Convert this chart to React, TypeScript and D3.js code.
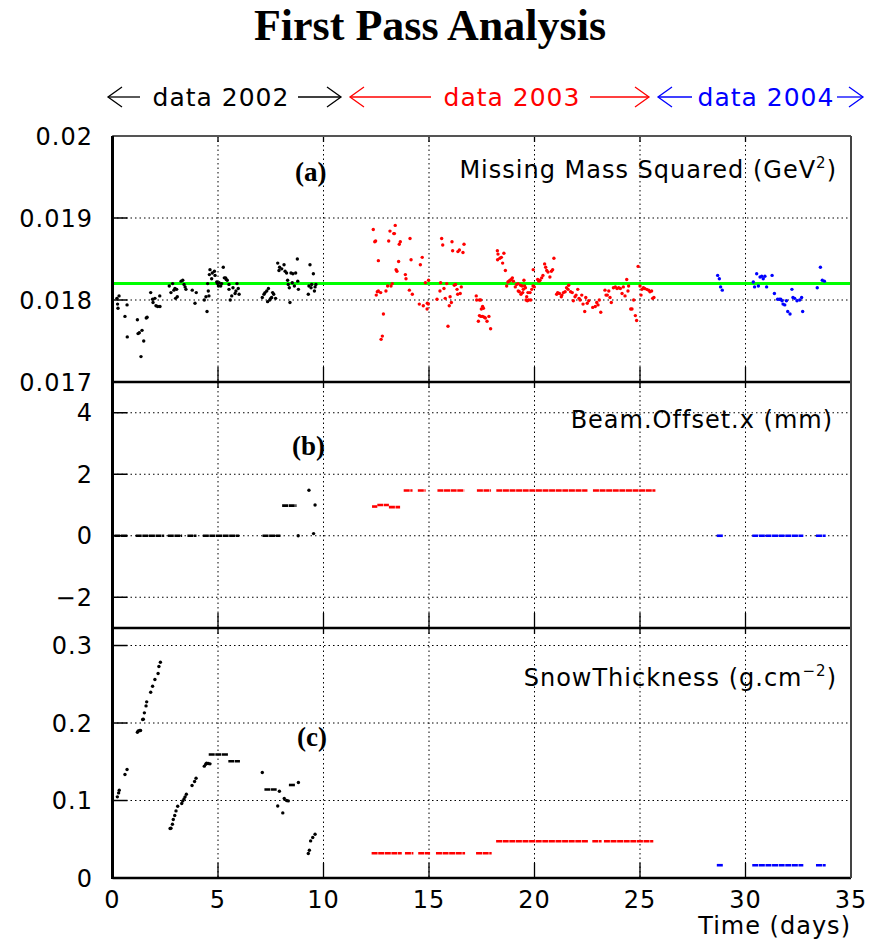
import React from 'react';
import * as d3 from 'd3';

// ---------- DATA ----------
const xTicks = [0, 5, 10, 15, 20, 25, 30, 35];
const xTickLabels = ['0', '5', '10', '15', '20', '25', '30', '35'];

const aTicks = [0.017, 0.018, 0.019, 0.02];
const aTickLabels = ['0.017', '0.018', '0.019', '0.02'];
const bTicks = [-2, 0, 2, 4];
const bTickLabels = ['\u22122', '0', '2', '4'];
const cTicks = [0, 0.1, 0.2, 0.3];
const cTickLabels = ['0', '0.1', '0.2', '0.3'];

const mm2Reference = 0.0182;

// Panel (a): missing mass squared [time, value]
const mm2002: [number, number][] = [
  [0.21,0.01802],[0.31,0.01805],[0.24,0.01795],[0.26,0.01790],[0.59,0.01780],[0.69,0.01794],[0.70,0.01755],[1.18,0.01776],[1.21,0.01759],[1.27,0.01760],[1.40,0.01763],[1.48,0.01750],[1.35,0.01731],[1.60,0.01778],[1.64,0.01779],[1.81,0.01809],[1.90,0.01801],[1.92,0.01797],[2.01,0.01802],[2.06,0.01793],[2.14,0.01792],[2.25,0.01792],[2.24,0.01805],[2.69,0.01817],[2.77,0.01809],[2.85,0.01820],[2.91,0.01812],[2.96,0.01814],[3.04,0.01813],[3.07,0.01804],[2.99,0.01802],[3.25,0.01823],[3.33,0.01824],[3.39,0.01819],[3.44,0.01816],[3.48,0.01813],[3.78,0.01812],[3.91,0.01796],[3.97,0.01809],[4.35,0.01800],[4.43,0.01804],[4.48,0.01786],[4.54,0.01811],[4.57,0.01805],[4.51,0.01820],[4.59,0.01831],[4.62,0.01837],[4.70,0.01826],[4.73,0.01833],[4.83,0.01835],[4.86,0.01830],[4.94,0.01822],[4.98,0.01820],[5.02,0.01817],[5.05,0.01821],[5.13,0.01817],[5.17,0.01820],[5.25,0.01840],[5.30,0.01827],[5.36,0.01827],[5.39,0.01825],[5.44,0.01824],[5.52,0.01819],[5.52,0.01813],[5.58,0.01800],[5.65,0.01805],[5.71,0.01815],[5.81,0.01808],[5.85,0.01811],[5.90,0.01820],[5.96,0.01814],[6.00,0.01807],[7.10,0.01803],[7.18,0.01807],[7.23,0.01809],[7.31,0.01811],[7.39,0.01814],[7.35,0.01798],[7.45,0.01800],[7.50,0.01802],[7.54,0.01803],[7.59,0.01809],[7.64,0.01807],[7.73,0.01802],[7.83,0.01845],[7.92,0.01840],[7.89,0.01836],[8.02,0.01838],[8.13,0.01843],[8.18,0.01835],[8.25,0.01833],[8.30,0.01824],[8.33,0.01819],[8.38,0.01815],[8.41,0.01797],[8.46,0.01833],[8.52,0.01821],[8.55,0.01832],[8.62,0.01817],[8.68,0.01833],[8.76,0.01850],[8.78,0.01823],[8.81,0.01813],[9.28,0.01807],[9.31,0.01817],[9.36,0.01843],[9.41,0.01815],[9.44,0.01819],[9.52,0.01832],[9.57,0.01811],[9.60,0.01816],[9.64,0.01819]
];
const mm2003: [number, number][] = [
  [12.36,0.01886],[12.43,0.01871],[12.47,0.01872],[12.60,0.01848],[12.50,0.01806],[12.55,0.01810],[12.60,0.01811],[12.71,0.01809],[12.84,0.01783],[12.73,0.01752],[12.79,0.01756],[12.96,0.01811],[13.04,0.01817],[13.09,0.01872],[13.15,0.01884],[13.20,0.01817],[13.26,0.01820],[13.33,0.01881],[13.36,0.01881],[13.40,0.01891],[13.44,0.01837],[13.48,0.01835],[13.56,0.01847],[13.59,0.01868],[13.64,0.01871],[13.88,0.01831],[13.91,0.01826],[14.07,0.01812],[14.10,0.01875],[14.15,0.01849],[14.21,0.01807],[14.54,0.01795],[14.59,0.01843],[14.68,0.01852],[14.73,0.01793],[14.83,0.01821],[14.91,0.01789],[14.92,0.01796],[14.97,0.01795],[14.98,0.01824],[15.38,0.01801],[15.52,0.01811],[15.55,0.01821],[15.60,0.01875],[15.65,0.01867],[15.71,0.01814],[15.77,0.01802],[15.84,0.01820],[15.90,0.01768],[15.96,0.01793],[16.00,0.01804],[16.06,0.01797],[16.09,0.01871],[16.12,0.01860],[16.20,0.01818],[16.26,0.01819],[16.33,0.01813],[16.37,0.01859],[16.44,0.01861],[16.36,0.01807],[16.53,0.01816],[16.61,0.01858],[16.66,0.01868],[16.48,0.01808],
  [17.24,0.01805],[17.26,0.01800],[17.39,0.01800],[17.45,0.01800],[17.54,0.01792],[17.58,0.01790],[17.48,0.01789],[17.39,0.01781],[17.46,0.01780],[17.54,0.01780],[17.62,0.01779],[17.67,0.01778],[17.75,0.01774],[17.84,0.01780],[17.34,0.01774],[17.92,0.01765],
  [18.24,0.01860],[18.27,0.01856],[18.25,0.01849],[18.36,0.01851],
  [18.43,0.01852],[18.49,0.01845],[18.55,0.01857],[18.62,0.01836],[18.68,0.01817],[18.74,0.01822],[18.79,0.01823],[18.84,0.01824],[18.90,0.01825],[18.95,0.01827],[19.00,0.01823],[19.09,0.01816],[19.15,0.01819],[19.22,0.01820],[19.23,0.01811],[19.28,0.01810],[19.34,0.01818],[19.36,0.01807],[19.41,0.01817],[19.44,0.01809],[19.47,0.01813],[19.50,0.01824],[19.53,0.01817],[19.57,0.01815],[19.60,0.01800],[19.63,0.01804],[19.66,0.01799],[19.69,0.01809],[19.72,0.01800],[19.79,0.01809],[19.82,0.01800],[19.87,0.01813],[19.93,0.01817],[19.94,0.01837],[19.99,0.01816],[20.15,0.01825],[20.21,0.01823],[20.26,0.01824],[20.34,0.01827],[20.40,0.01830],[20.48,0.01844],[20.53,0.01840],[20.58,0.01836],[20.64,0.01834],[20.73,0.01828],[20.80,0.01835],[20.86,0.01837],[20.92,0.01851],[21.05,0.01807],[21.10,0.01809],[21.18,0.01808],[21.27,0.01804],[21.30,0.01806],[21.37,0.01809],[21.45,0.01810],[21.52,0.01815],[21.59,0.01813],[21.62,0.01818],[21.71,0.01810],[21.79,0.01809],[21.84,0.01799],[21.92,0.01804],[21.97,0.01806],[22.05,0.01813],[22.11,0.01802],[22.16,0.01800],[22.24,0.01806],[22.30,0.01795],[22.38,0.01786],[22.43,0.01803],[22.50,0.01796],[22.57,0.01799],[22.76,0.01791],[22.88,0.01792],[22.95,0.01797],[23.01,0.01794],[23.07,0.01800],[23.14,0.01785],[23.34,0.01812],[23.39,0.01806],[23.45,0.01806],[23.52,0.01811],[23.58,0.01803],[23.64,0.01797],[23.74,0.01815],[23.83,0.01816],[23.91,0.01814],[23.99,0.01815],[24.07,0.01814],[24.15,0.01808],[24.21,0.01816],[24.29,0.01805],[24.37,0.01825],[24.43,0.01811],[24.46,0.01817],[24.56,0.01789],[24.62,0.01789],[24.70,0.01800],[24.78,0.01781],[24.84,0.01775],[24.91,0.01841],[25.00,0.01817],[25.05,0.01806],[25.09,0.01813],[25.16,0.01815],[25.22,0.01814],[25.32,0.01813],[25.41,0.01812],[25.47,0.01810],[25.55,0.01811],[25.60,0.01802],[25.66,0.01803]
];
const mm2004: [number, number][] = [
  [28.68,0.01830],[28.76,0.01826],[28.82,0.01816],[28.90,0.01812],[30.37,0.01822],[30.43,0.01816],[30.53,0.01832],[30.61,0.01817],[30.69,0.01828],[30.77,0.01829],[30.84,0.01826],[30.92,0.01829],[31.00,0.01816],[31.26,0.01830],[31.37,0.01808],[31.52,0.01801],[31.60,0.01801],[31.67,0.01801],[31.73,0.01799],[31.78,0.01795],[31.86,0.01794],[31.94,0.01799],[32.00,0.01786],[32.11,0.01783],[32.20,0.01813],[32.25,0.01803],[32.33,0.01802],[32.44,0.01799],[32.57,0.01800],[32.66,0.01803],[32.71,0.01786],[33.40,0.01815],[33.55,0.01840],[33.64,0.01824],[33.74,0.01823]
];

// Panel (b): beam offset x, runs [tStart, tEnd, value] and single points [t, value]
const beam2002Runs: [number, number, number][] = [
  [0.09,0.73,0],[1.10,2.45,0],[2.62,3.30,0],[3.55,3.98,0],[4.28,6.01,0],[7.11,7.96,0],[8.04,8.72,0.98]
];
const beam2002Points: [number, number][] = [[8.80,0],[9.53,0.07],[9.60,1.0],[9.31,1.48]];
const beam2003Runs: [number, number, number][] = [
  [12.30,12.55,0.95],[12.55,13.10,1.0],[13.10,13.63,0.93],[13.80,14.22,1.47],[14.47,14.84,1.47],[15.40,16.67,1.47],[17.27,17.94,1.47],[18.19,22.51,1.47],[22.77,25.73,1.47]
];
const beam2004Runs: [number, number, number][] = [
  [28.64,28.95,0],[30.32,32.74,0],[33.34,33.80,0]
];

// Panel (c): snow thickness
const snow2002Points: [number, number][] = [
  [0.23,0.1047],[0.29,0.1098],[0.32,0.1133],[0.59,0.1335],[0.69,0.1400],[1.18,0.1881],[1.22,0.1898],[1.29,0.1903],[1.33,0.1903],[1.43,0.2045],[1.46,0.2049],[1.51,0.2131],[1.59,0.2221],[1.62,0.2273],[1.81,0.2397],[1.90,0.2475],[2.01,0.2561],[2.16,0.2638],[2.20,0.2729],[2.27,0.2785],[2.73,0.0638],[2.77,0.0642],[2.84,0.0694],[2.88,0.0754],[2.95,0.0806],[3.01,0.0866],[3.09,0.0926],[3.28,0.0961],[3.33,0.0995],[3.39,0.1021],[3.44,0.1047],[3.50,0.1081],[3.77,0.1193],[3.89,0.1245],[3.96,0.1288],[4.35,0.1443],[4.42,0.1468],[4.46,0.1481],[4.54,0.1477],[4.62,0.1473],
  [7.10,0.1361],[7.91,0.112],[7.83,0.093],[8.07,0.084],[8.14,0.1026],[8.25,0.100],[8.33,0.0995],[8.81,0.1232],[9.28,0.0316],[9.33,0.0359],[9.39,0.0479],[9.49,0.0523],[9.60,0.0565]
];
const snow2002Runs: [number, number, number][] = [
  [4.56,5.49,0.1594],[5.49,6.04,0.1507],[7.20,7.78,0.1142],[8.36,8.65,0.120]
];
const snow2003Runs: [number, number, number][] = [
  [12.28,13.71,0.032],[13.86,14.26,0.032],[14.49,15.05,0.032],[15.33,16.71,0.032],[17.23,17.97,0.032],[18.18,22.55,0.0475],[22.74,23.18,0.0475],[23.29,25.63,0.0475]
];
const snow2004Runs: [number, number, number][] = [
  [28.64,28.95,0.0165],[30.32,32.74,0.0165],[33.34,33.80,0.0165]
];

// ---------- LAYOUT ----------
const W = 871, H = 947;
const X0 = 112.5, X1 = 851;
const A_TOP = 136, A_BOT = 382, B_TOP = 382, B_BOT = 628, C_TOP = 628, C_BOT = 878;

const x = d3.scaleLinear().domain([0, 35]).range([X0, X1]);
const ya = d3.scaleLinear().domain([0.017, 0.02]).range([A_BOT, A_TOP]);
const yb = d3.scaleLinear().domain([-3, 5]).range([B_BOT, B_TOP]);
const yc = d3.scaleLinear().domain([0, 0.3226]).range([C_BOT, C_TOP]);

const SANS = '"DejaVu Sans", sans-serif';
const SERIF = '"Liberation Serif", "Times New Roman", serif';
const BLACK = '#000000', RED = '#ff0000', BLUE = '#0000ff';

function Frame({ y, ticks, labels, top, bottom }: any) {
  const innerX = xTicks.filter((t) => t > 0 && t < 35);
  return (
    <g>
      {innerX.map((t) => (
        <line key={'vg' + t} x1={x(t)} x2={x(t)} y1={top} y2={bottom} stroke="#000" strokeWidth={1} strokeDasharray="1.5 3" />
      ))}
      {ticks.map((v: number, i: number) => {
        const py = y(v);
        const inner = py > top + 1 && py < bottom - 1;
        return (
          <g key={'yt' + i}>
            {inner && <line x1={X0} x2={X1} y1={py} y2={py} stroke="#000" strokeWidth={1} strokeDasharray="1.5 3" />}
            <line x1={X0} x2={X0 + 15} y1={py} y2={py} stroke="#000" strokeWidth={1.5} />
            <text x={93} y={py + 8.5} textAnchor="end" fontFamily={SANS} fontSize={24} letterSpacing={1}>{labels[i]}</text>
          </g>
        );
      })}
      {innerX.map((t) => (
        <g key={'xt' + t}>
          <line x1={x(t)} x2={x(t)} y1={bottom} y2={bottom - 15} stroke="#000" strokeWidth={1.3} />
          <line x1={x(t)} x2={x(t)} y1={top} y2={top + 6} stroke="#000" strokeWidth={1.3} />
        </g>
      ))}
    </g>
  );
}

function Dots({ data, y, color }: any) {
  return (
    <g fill={color}>
      {data.map((d: [number, number], i: number) => (
        <circle key={i} cx={x(d[0])} cy={y(d[1])} r={1.7} />
      ))}
    </g>
  );
}

function Runs({ data, y, color }: any) {
  return (
    <g stroke={color} strokeWidth={2.6} strokeDasharray="6 0.6">
      {data.map((d: [number, number, number], i: number) => (
        <line key={i} x1={x(d[0])} x2={x(d[1])} y1={y(d[2])} y2={y(d[2])} />
      ))}
    </g>
  );
}

function Arrow({ tip, end, yy, color }: any) {
  const dir = end > tip ? 1 : -1;
  return (
    <g stroke={color} strokeWidth={1.3} fill="none">
      <line x1={tip} x2={end} y1={yy} y2={yy} />
      <polyline points={`${tip + dir * 14},${yy - 10} ${tip},${yy} ${tip + dir * 14},${yy + 10}`} />
    </g>
  );
}

const headerItems = [
  { label: 'data 2002', color: BLACK, lTip: 108, lEnd: 140, cx: 221, rStart: 298, rTip: 341 },
  { label: 'data 2003', color: RED, lTip: 350, lEnd: 431, cx: 512, rStart: 590, rTip: 649 },
  { label: 'data 2004', color: BLUE, lTip: 658, lEnd: 692, cx: 766, rStart: 837, rTip: 863 },
];

export default function App() {
  const HY = 97;
  return (
    <svg width={W} height={H} style={{ position: 'absolute', left: 0, top: 0, background: '#fff' }}>
      <rect x={0} y={0} width={W} height={H} fill="#fff" />
      <text x={430} y={40} textAnchor="middle" fontFamily={SERIF} fontWeight="bold" fontSize={44}>First Pass Analysis</text>

      {headerItems.map((h) => (
        <g key={h.label}>
          <Arrow tip={h.lTip} end={h.lEnd} yy={HY} color={h.color} />
          <text x={h.cx} y={HY + 9} textAnchor="middle" fontFamily={SANS} fontSize={25} letterSpacing={1} fill={h.color}>{h.label}</text>
          <Arrow tip={h.rTip} end={h.rStart} yy={HY} color={h.color} />
        </g>
      ))}

      {/* Panel a */}
      <Frame y={ya} ticks={aTicks} labels={aTickLabels} top={A_TOP} bottom={A_BOT} />
      <line x1={X0} x2={X1} y1={ya(mm2Reference)} y2={ya(mm2Reference)} stroke="#00ff00" strokeWidth={3} />
      <Dots data={mm2002} y={ya} color={BLACK} />
      <Dots data={mm2003} y={ya} color={RED} />
      <Dots data={mm2004} y={ya} color={BLUE} />
      <text x={295} y={181} fontFamily={SERIF} fontWeight="bold" fontSize={27}>(a)</text>
      <text x={837} y={178} textAnchor="end" fontFamily={SANS} fontSize={24} letterSpacing={1}>
        Missing Mass Squared (GeV<tspan fontSize={15} dy={-10}>2</tspan><tspan dy={10}>)</tspan>
      </text>

      {/* Panel b */}
      <Frame y={yb} ticks={bTicks} labels={bTickLabels} top={B_TOP} bottom={B_BOT} />
      <Runs data={beam2002Runs} y={yb} color={BLACK} />
      <Dots data={beam2002Points} y={yb} color={BLACK} />
      <Runs data={beam2003Runs} y={yb} color={RED} />
      <Runs data={beam2004Runs} y={yb} color={BLUE} />
      <text x={292} y={455} fontFamily={SERIF} fontWeight="bold" fontSize={27}>(b)</text>
      <text x={833} y={428} textAnchor="end" fontFamily={SANS} fontSize={24} letterSpacing={1}>Beam.Offset.x (mm)</text>

      {/* Panel c */}
      <Frame y={yc} ticks={cTicks} labels={cTickLabels} top={C_TOP} bottom={C_BOT} />
      <Dots data={snow2002Points} y={yc} color={BLACK} />
      <Runs data={snow2002Runs} y={yc} color={BLACK} />
      <Runs data={snow2003Runs} y={yc} color={RED} />
      <Runs data={snow2004Runs} y={yc} color={BLUE} />
      <text x={297} y={746} fontFamily={SERIF} fontWeight="bold" fontSize={27}>(c)</text>
      <text x={837} y={686} textAnchor="end" fontFamily={SANS} fontSize={24} letterSpacing={1}>
        SnowThickness (g.cm<tspan fontSize={15} dy={-10}>{'\u22122'}</tspan><tspan dy={10}>)</tspan>
      </text>

      {/* frames */}
      <line x1={X0} x2={X1} y1={A_TOP} y2={A_TOP} stroke="#555" strokeWidth={2} />
      <line x1={X0} x2={X1} y1={A_BOT} y2={A_BOT} stroke="#000" strokeWidth={2.5} />
      <line x1={X0} x2={X1} y1={B_BOT} y2={B_BOT} stroke="#000" strokeWidth={2.5} />
      <line x1={X0} x2={X1} y1={C_BOT} y2={C_BOT} stroke="#000" strokeWidth={2.5} />
      <line x1={X1} x2={X1} y1={A_TOP} y2={C_BOT} stroke="#444" strokeWidth={2} />
      <line x1={X0} x2={X0} y1={A_TOP} y2={C_BOT + 1} stroke="#000" strokeWidth={3} />

      {/* x axis labels */}
      {xTicks.map((t, i) => (
        <text key={'xl' + t} x={x(t)} y={908} textAnchor="middle" fontFamily={SANS} fontSize={24} letterSpacing={1}>{xTickLabels[i]}</text>
      ))}
      <text x={851} y={934} textAnchor="end" fontFamily={SANS} fontSize={24} letterSpacing={1}>Time (days)</text>
    </svg>
  );
}
